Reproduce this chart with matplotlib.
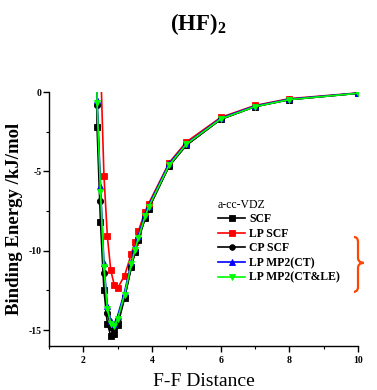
import matplotlib
matplotlib.use("Agg")
import matplotlib.pyplot as plt
from matplotlib.path import Path
from matplotlib.patches import PathPatch
from matplotlib.ticker import MultipleLocator

plt.rcParams.update(
    {
        "font.family": "Liberation Serif",
        "mathtext.fontset": "custom",
        "mathtext.rm": "Liberation Serif",
        "mathtext.bf": "Liberation Serif:bold",
        "axes.unicode_minus": False,
    }
)

# F-F distance and binding energies (kJ/mol)
distance = [2.3, 2.4, 2.5, 2.6, 2.7, 2.8, 2.9, 3.0, 3.2, 3.4, 3.5, 3.6, 3.8, 3.9, 4.5, 5.0, 6.0, 7.0, 8.0, 10.0]
scf = [40.0, -2.2, -8.2, -12.45, -14.6, -15.35, -15.25, -14.7, -13.0, -11.0, -10.1, -9.3, -7.95, -7.35,
       -4.65, -3.35, -1.72, -0.92, -0.48, -0.08]
lp_scf = [60.0, 40.0, 2.0, -5.26, -9.1, -11.24, -12.14, -12.35, -11.57, -10.19, -9.46, -8.78, -7.53, -7.04,
          -4.45, -3.15, -1.6, -0.85, -0.42, -0.06]
cp_scf = [40.0, -0.8, -6.86, -11.4, -13.9, -14.8, -14.9, -14.5, -12.9, -11.0, -10.1, -9.3, -7.95, -7.35,
          -4.65, -3.35, -1.72, -0.92, -0.48, -0.08]
lp_mp2_ct = [40.0, -0.5, -5.9, -10.8, -13.5, -14.4, -14.6, -14.1, -12.6, -10.7, -9.85, -9.05, -7.7, -7.15,
             -4.5, -3.25, -1.65, -0.88, -0.45, -0.07]
lp_mp2_ctle = [40.0, -0.67, -6.3, -11.05, -13.67, -14.6, -14.76, -14.3, -12.77, -10.84, -9.98, -9.2, -7.84,
               -7.25, -4.6, -3.29, -1.7, -0.92, -0.48, -0.08]

series = [
    ("SCF", scf, "black", "s"),
    ("LP SCF", lp_scf, "red", "s"),
    ("CP SCF", cp_scf, "black", "o"),
    ("LP MP2(CT)", lp_mp2_ct, "blue", "^"),
    ("LP MP2(CT&LE)", lp_mp2_ctle, "#00ff00", "v"),
]

fig = plt.figure(figsize=(3.77, 3.90), dpi=100)
ax = fig.add_axes([49 / 377, 44 / 390, 309 / 377, 254 / 390])

for label, values, color, marker in series:
    ax.plot(distance, values, color=color, marker=marker, markersize=4.5, lw=1.2,
            markeredgewidth=0.6, label=label, clip_on=True)

ax.set_xlim(1, 10)
ax.set_ylim(-16, 0)
ax.xaxis.set_major_locator(MultipleLocator(2))
ax.xaxis.set_minor_locator(MultipleLocator(1))
ax.yaxis.set_major_locator(MultipleLocator(5))
ax.yaxis.set_minor_locator(MultipleLocator(2.5))
for side in ("top", "right"):
    ax.spines[side].set_visible(False)
for side in ("left", "bottom"):
    ax.spines[side].set_linewidth(1.0)
ax.tick_params(which="major", direction="out", length=4, width=1.0, labelsize=7)
ax.tick_params(which="minor", direction="out", length=2.5, width=0.8)
ax.tick_params(axis="x", pad=3)
ax.tick_params(axis="y", pad=1.5)
for lab in ax.get_xticklabels() + ax.get_yticklabels():
    lab.set_fontweight("bold")

ax.set_xlabel("F-F Distance", fontsize=14, labelpad=6)
ax.set_ylabel("Binding Energy /kJ/mol", fontsize=13.5, fontweight="bold", labelpad=4)
fig.text(0.525, 0.938, r"$\mathbf{(HF)_2}$", ha="center", va="center", fontsize=16.5)

leg = ax.legend(loc="upper left", bbox_to_anchor=(0.547, 0.58), frameon=False, title="a-cc-VDZ",
                prop={"size": 8.5, "weight": "bold"}, title_fontsize=8.5, handlelength=2.3,
                handletextpad=0.35, labelspacing=0.22, borderpad=0, borderaxespad=0,
                markerscale=0.9)
leg._legend_box.align = "left"

# orange brace next to the MP2 entries
bx0, bx1, bx2 = 0.987, 1.0, 1.019
by_top, by_mid, by_bot = 0.429, 0.327, 0.213
verts = [
    (bx0, by_top), (bx1, by_top), (bx1, by_top - 0.02),
    (bx1, by_mid + 0.02),
    (bx1, by_mid), (bx2, by_mid), (bx2, by_mid),
    (bx1, by_mid), (bx1, by_mid - 0.02),
    (bx1, by_bot + 0.02),
    (bx1, by_bot), (bx0, by_bot), (bx0, by_bot),
]
codes = [Path.MOVETO, Path.CURVE3, Path.CURVE3, Path.LINETO, Path.CURVE4, Path.CURVE4, Path.CURVE4,
         Path.CURVE3, Path.CURVE3, Path.LINETO, Path.CURVE4, Path.CURVE4, Path.CURVE4]
brace = PathPatch(Path(verts, codes), transform=ax.transAxes, fill=False, edgecolor="#ff4500",
                  lw=1.6, clip_on=False)
ax.add_patch(brace)

fig.savefig("out.png", dpi=100, facecolor="white")
